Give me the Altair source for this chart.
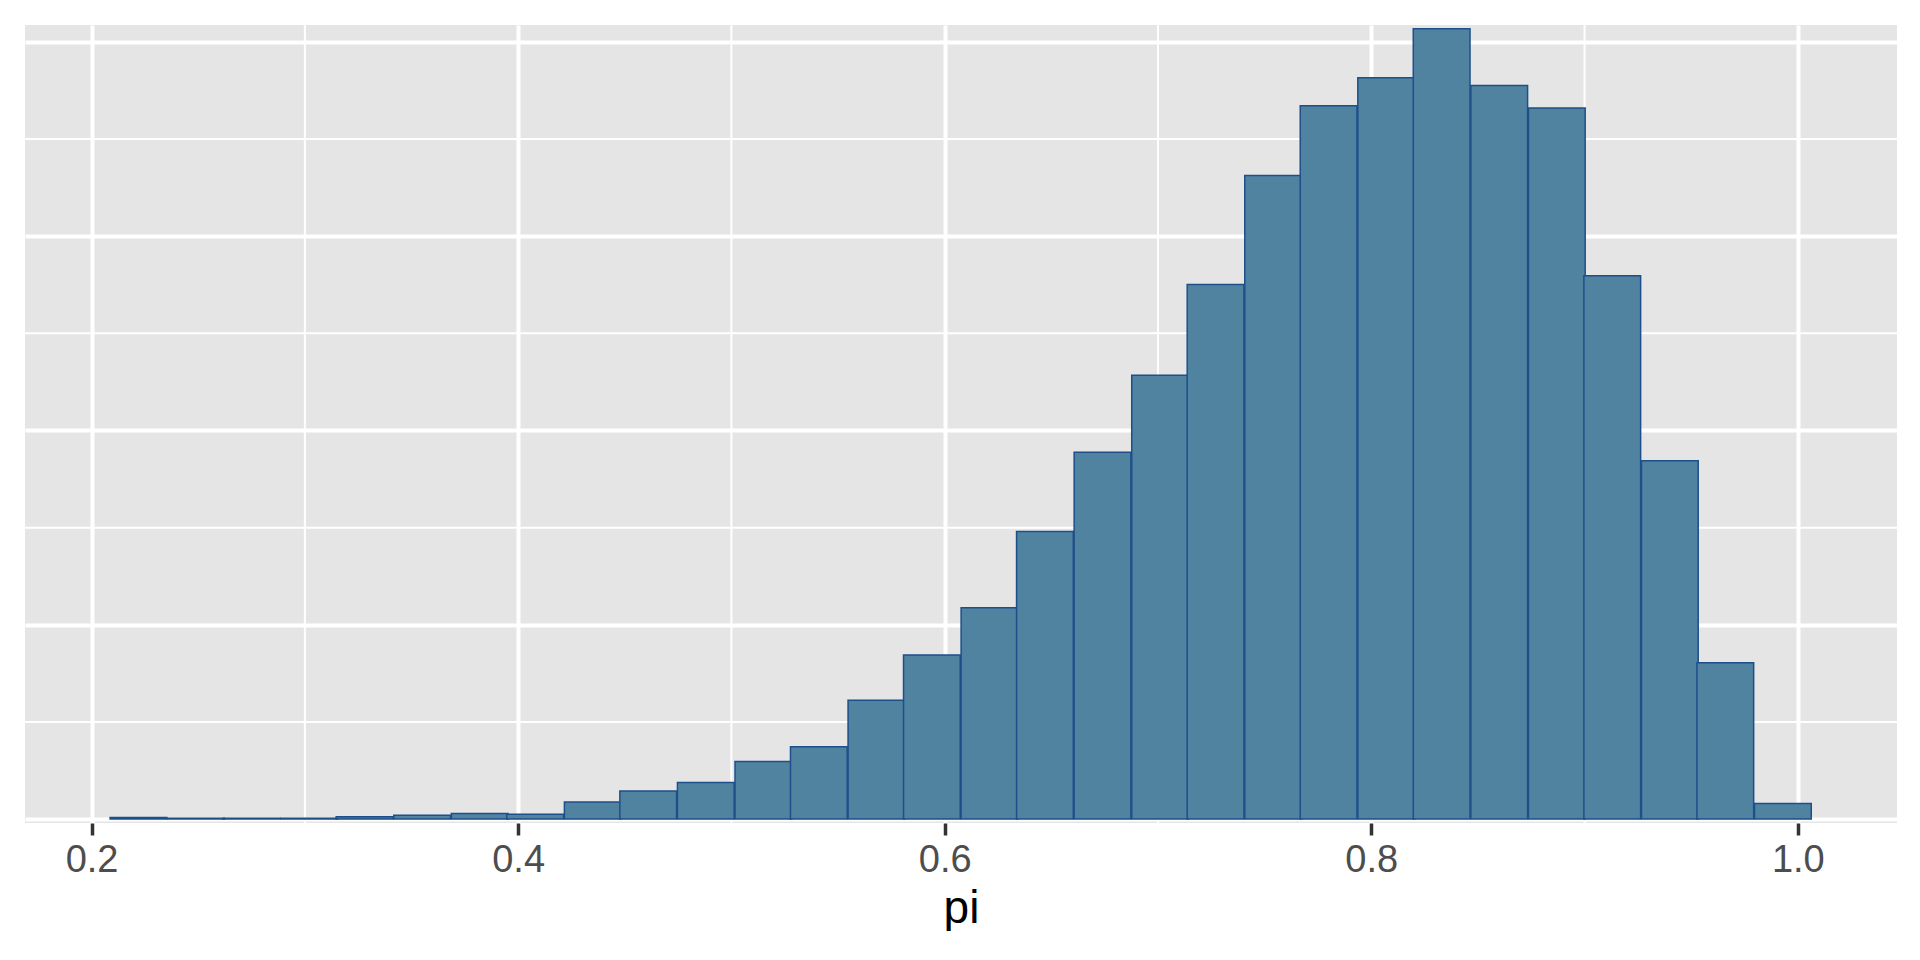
import altair as alt
import pandas as pd

# Histogram of posterior samples of pi (30 bins)
bin_centers = [0.222, 0.249, 0.275, 0.302, 0.328, 0.355, 0.382, 0.408, 0.435, 0.461,
               0.488, 0.515, 0.541, 0.568, 0.594, 0.621, 0.647, 0.674, 0.701, 0.727,
               0.754, 0.780, 0.807, 0.833, 0.860, 0.887, 0.913, 0.940, 0.966, 0.993]
counts = [2, 1, 1, 1, 3, 5, 7, 6, 22, 36,
          47, 74, 93, 153, 211, 272, 370, 472, 571, 688,
          828, 918, 954, 1017, 944, 915, 699, 461, 201, 20]
bin_width = 0.0266

x_major = [0.2, 0.4, 0.6, 0.8, 1.0]
x_minor = [0.3, 0.5, 0.7, 0.9]
y_major = [0, 250, 500, 750, 1000]
y_minor = [125, 375, 625, 875]

bars = pd.DataFrame({
    "lo": [c - bin_width / 2 for c in bin_centers],
    "hi": [c + bin_width / 2 for c in bin_centers],
    "count": counts,
})

x_scale = alt.Scale(domain=[0.1688, 1.0465], nice=False, zero=False)
y_scale = alt.Scale(domain=[-5.1, 1021.8], nice=False, zero=False)

vminor = alt.Chart(pd.DataFrame({"x": x_minor})).mark_rule(
    color="white", strokeWidth=2
).encode(x=alt.X("x:Q", scale=x_scale))

hminor = alt.Chart(pd.DataFrame({"y": y_minor})).mark_rule(
    color="white", strokeWidth=2
).encode(y=alt.Y("y:Q", scale=y_scale))

hist = alt.Chart(bars).mark_rect(
    fill="#5083A0", stroke="#1D4F8B", strokeWidth=1.5
).encode(
    x=alt.X("lo:Q", scale=x_scale,
            axis=alt.Axis(values=x_major, format=".1f", title="pi",
                          labelFontSize=38, labelColor="#4D4D4D", labelFont="Liberation Sans",
                          labelPadding=6, tickSize=12, tickWidth=3.5, tickColor="#333333",
                          domain=False, grid=True, gridColor="white", gridWidth=4,
                          titleFontSize=46, titleFont="Liberation Sans", titleFontWeight="normal",
                          titleColor="black", titlePadding=7)),
    x2="hi:Q",
    y=alt.Y("count:Q", scale=y_scale,
            axis=alt.Axis(values=y_major, labels=False, ticks=False, domain=False,
                          title=None, grid=True, gridColor="white", gridWidth=4)),
    y2=alt.datum(0),
)

chart = alt.layer(vminor, hminor, hist).properties(
    width=1872, height=798,
    padding={"left": 16, "top": 16, "right": 0, "bottom": 0},
).configure(background="white").configure_view(fill="#E5E5E5", stroke=None)

chart.save("out.html", embed_options={"renderer": "svg", "actions": False})
